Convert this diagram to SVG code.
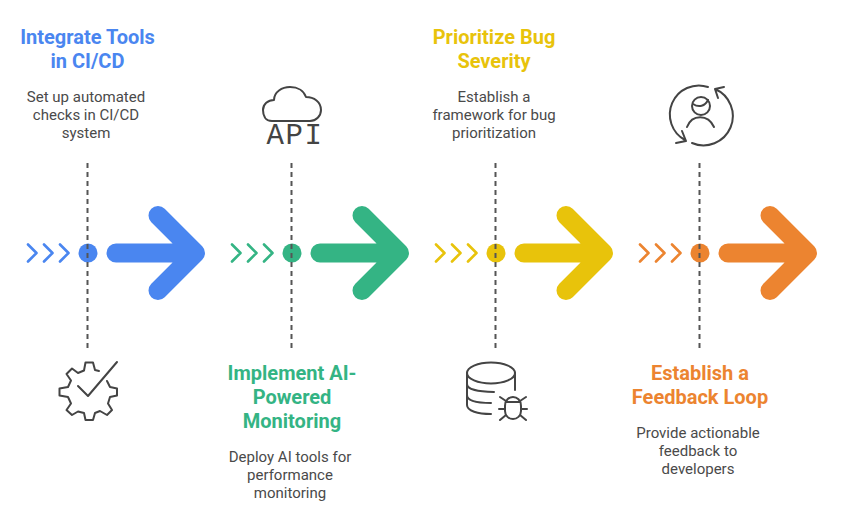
<svg xmlns="http://www.w3.org/2000/svg" width="842" height="523" viewBox="0 0 842 523">
<style>
.t{font-family:Roboto,"Liberation Sans",sans-serif;font-weight:700;font-size:20px;text-anchor:middle}
.b{font-family:Roboto,"Liberation Sans",sans-serif;font-size:15px;fill:#4a4a4a;text-anchor:middle}
.d{stroke:#555;stroke-width:2;stroke-dasharray:5 4;fill:none}
.c{fill:none;stroke-width:2.6;stroke-linecap:round;stroke-linejoin:round}
.a{fill:none;stroke-width:19;stroke-linecap:round;stroke-linejoin:round}
.i{fill:none;stroke:#444;stroke-width:2;stroke-linecap:round;stroke-linejoin:round}
</style>
<defs>
<g id="ch"><path d="M28 244.500L36.500 253L28 261.500M44 244.500L52.500 253L44 261.500M60 244.500L68.500 253L60 261.500" class="c"/></g>
<g id="ar"><path d="M116 253H194M158 215.500L195.500 253L158 290.500" class="a"/></g>
</defs>
<rect width="842" height="523" fill="#fff"/>
<g id="connectors">
<g stroke="#4a86f0" fill="#4a86f0"><use href="#ch"/><use href="#ar"/><circle cx="88" cy="253" r="9.500" stroke="none"/></g>
<g stroke="#34b484" fill="#34b484" transform="translate(204 0)"><use href="#ch"/><use href="#ar"/><circle cx="88" cy="253" r="9.500" stroke="none"/></g>
<g stroke="#e8c30b" fill="#e8c30b" transform="translate(408 0)"><use href="#ch"/><use href="#ar"/><circle cx="88" cy="253" r="9.500" stroke="none"/></g>
<g stroke="#ec8430" fill="#ec8430" transform="translate(612 0)"><use href="#ch"/><use href="#ar"/><circle cx="88" cy="253" r="9.500" stroke="none"/></g>
<path class="d" d="M87.500 163V350M291.500 163V350M495.500 163V350M699.500 163V350"/>
</g>
<g id="node-1">
<text class="t" x="87.500" y="44" fill="#4a86f0">Integrate Tools</text>
<text class="t" x="87.500" y="68" fill="#4a86f0">in CI/CD</text>
<text class="b" x="86" y="102">Set up automated</text>
<text class="b" x="86" y="120">checks in CI/CD</text>
<text class="b" x="86" y="138">system</text>
<path class="i" d="M99 371L95 370L93 362.500H85.500L84 370.500L78 373L72 368.500L66.500 374L71 380.500L68 387L59.500 388.500V395.500L68 397L71 403.500L66.500 410L72 415L78 411.500L84 413L85.500 420H93L95 413L100 411L107 415L112 410L108 403.500L110 397L117 395.500V388.500L110 387L107 381"/>
<path class="i" d="M78 386L88 396L117 362"/>
</g>
<g id="node-2">
<text class="t" x="292" y="380" fill="#34b484">Implement AI-</text>
<text class="t" x="292" y="404" fill="#34b484">Powered</text>
<text class="t" x="292" y="428" fill="#34b484">Monitoring</text>
<text class="b" x="290" y="462">Deploy AI tools for</text>
<text class="b" x="290" y="480">performance</text>
<text class="b" x="290" y="498">monitoring</text>
<path class="i" d="M272 121C265 121 263 115 263 110C263 104 268 100 274 100C274 92 282 87 290 87C298 87 304 91 306 97C314 97 321 102 321 110C321 116 316 121 310 121Z"/>
<text x="266.500" y="144" font-family="'Liberation Mono',monospace" font-size="29" letter-spacing="1.600" fill="#444">API</text>
</g>
<g id="node-3">
<text class="t" x="494" y="44" fill="#e8c30b">Prioritize Bug</text>
<text class="t" x="494" y="68" fill="#e8c30b">Severity</text>
<text class="b" x="494" y="102">Establish a</text>
<text class="b" x="494" y="120">framework for bug</text>
<text class="b" x="494" y="138">prioritization</text>
<ellipse class="i" cx="491" cy="373" rx="24" ry="10.500"/>
<path class="i" d="M467 373V405C467 411 478 414 491 414M515 373V390M467 384C467 390 478 391.500 494 392M467 395C467 401 478 403 491 403"/>
<path class="i" d="M505 406C505 400 509 397 513 397C517 397 521 400 521 406V411C521 416 517 419 513 419C509 419 505 416 505 411ZM506 402H520M500 397L506 401M526 397L520 401M499 409H505M521 409H527M500 420L506 415M526 420L520 415"/>
</g>
<g id="node-4">
<text class="t" x="700" y="380" fill="#ec8430">Establish a</text>
<text class="t" x="700" y="404" fill="#ec8430">Feedback Loop</text>
<text class="b" x="698" y="438">Provide actionable</text>
<text class="b" x="698" y="456">feedback to</text>
<text class="b" x="698" y="474">developers</text>
<path class="i" d="M708 87A29 29 0 0 0 685 140M686 141L676 143M686 141L682 131"/>
<path class="i" d="M692 143A29 29 0 0 0 715 89M715 89L724 87M715 89L718 98"/>
<circle class="i" cx="701" cy="106" r="9"/>
<path class="i" d="M693 104C699 108 705 106 708 100M687 127C692 114 708 114 714 127"/>
</g>
</svg>
